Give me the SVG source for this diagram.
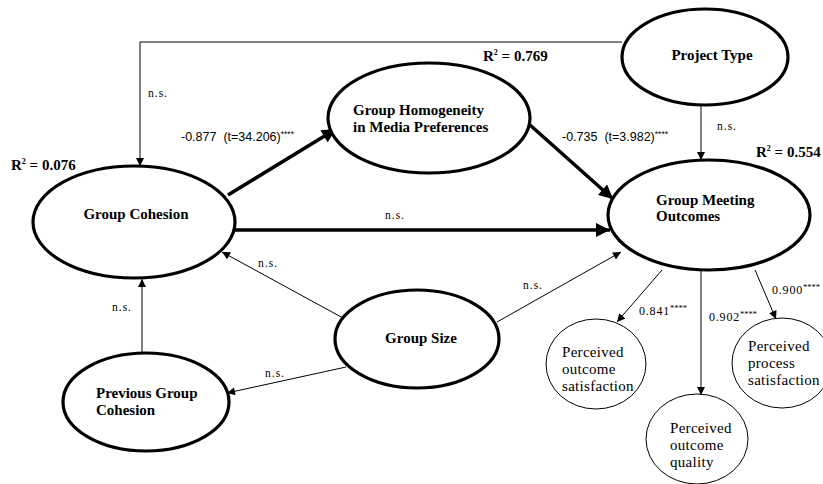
<svg xmlns="http://www.w3.org/2000/svg" width="823" height="484" viewBox="0 0 823 484">
<style>
.bg{fill:#fff}
.node{fill:#fff;stroke:#000;stroke-width:3.2}
.ind{fill:#fff;stroke:#000;stroke-width:1}
.lbl{font-family:"Liberation Serif",serif;font-weight:bold;font-size:15px;fill:#000}
.ilbl{font-family:"Liberation Serif",serif;font-size:15px;fill:#000;letter-spacing:0.3px}
.ns{font-family:"Liberation Serif",serif;font-size:11.5px;fill:#000;letter-spacing:1px}
.coef{font-family:"Liberation Sans",sans-serif;font-size:12.5px;fill:#000;white-space:pre}
.load{font-family:"Liberation Serif",serif;font-size:12px;fill:#000;letter-spacing:0.8px}
.star{font-size:8.5px;letter-spacing:0}
.r2{font-family:"Liberation Serif",serif;font-weight:bold;font-size:15px;fill:#000;white-space:pre}
.thick{fill:none;stroke:#000;stroke-width:3.5;marker-end:url(#big)}
.thin{fill:none;stroke:#000;stroke-width:1;marker-end:url(#small)}
</style>
<defs>
<marker id="big" viewBox="0 0 10 10" refX="10" refY="5" markerWidth="16" markerHeight="14" markerUnits="userSpaceOnUse" orient="auto"><path d="M0,0 L10,5 L0,10 z" fill="#000"/></marker>
<marker id="small" viewBox="0 0 10 10" refX="10" refY="5" markerWidth="9" markerHeight="8" markerUnits="userSpaceOnUse" orient="auto"><path d="M0,0 L10,5 L0,10 z" fill="#000"/></marker>
</defs>
<rect class="bg" x="0" y="0" width="823" height="484"/>

<g id="connectors">
<path class="thin" d="M622,42 H140 V166"/>
<path class="thin" d="M701,105 L701,160"/>
<path class="thick" d="M228,195 L336,129"/>
<path class="thick" d="M530,125 L613,199"/>
<path class="thick" d="M235,230 L610,230"/>
<path class="thin" d="M343,318 L222,252"/>
<path class="thin" d="M497,322 L621,252"/>
<path class="thin" d="M346,367 L227,393"/>
<path class="thin" d="M142,353 L142,279"/>
<path class="thin" d="M662,270 L617,322"/>
<path class="thin" d="M701,270 L701,395"/>
<path class="thin" d="M755,270 L776,319"/>
</g>

<g id="edge-labels">
<text class="ns" x="148" y="97">n.s.</text>
<text class="ns" x="717" y="130">n.s.</text>
<text class="coef" x="181" y="141">-0.877  (t=34.206)<tspan class="star" dy="-4">****</tspan></text>
<text class="coef" x="562" y="141">-0.735  (t=3.982)<tspan class="star" dy="-4">****</tspan></text>
<text class="ns" x="385" y="219">n.s.</text>
<text class="ns" x="258" y="267">n.s.</text>
<text class="ns" x="523" y="289">n.s.</text>
<text class="ns" x="265" y="377">n.s.</text>
<text class="ns" x="112" y="311">n.s.</text>
<text class="load" x="639" y="315">0.841<tspan class="star" dy="-4">****</tspan></text>
<text class="load" x="709" y="321">0.902<tspan class="star" dy="-4">****</tspan></text>
<text class="load" x="772" y="294">0.900<tspan class="star" dy="-4">****</tspan></text>
</g>

<g id="r2-labels">
<text class="r2" x="11" y="170">R<tspan font-size="8" dy="-6">2</tspan><tspan dy="6"> = 0.076</tspan></text>
<text class="r2" x="483" y="61">R<tspan font-size="8" dy="-6">2</tspan><tspan dy="6"> = 0.769</tspan></text>
<text class="r2" x="756" y="157">R<tspan font-size="8" dy="-6">2</tspan><tspan dy="6"> = 0.554</tspan></text>
</g>

<g id="group-cohesion">
<ellipse class="node" cx="134" cy="222" rx="101" ry="56"/>
<text class="lbl" x="136" y="219" text-anchor="middle">Group Cohesion</text>
</g>

<g id="group-homogeneity">
<ellipse class="node" cx="429" cy="118" rx="101" ry="55"/>
<text class="lbl" x="353" y="115">Group Homogeneity</text>
<text class="lbl" x="353" y="132">in Media Preferences</text>
</g>

<g id="project-type">
<ellipse class="node" cx="705" cy="57" rx="83" ry="48"/>
<text class="lbl" x="712" y="60" text-anchor="middle">Project Type</text>
</g>

<g id="group-meeting-outcomes">
<ellipse class="node" cx="709" cy="215" rx="101" ry="55"/>
<text class="lbl" x="656" y="205">Group Meeting</text>
<text class="lbl" x="656" y="221">Outcomes</text>
</g>

<g id="group-size">
<ellipse class="node" cx="417" cy="339" rx="82" ry="49"/>
<text class="lbl" x="421" y="343" text-anchor="middle">Group Size</text>
</g>

<g id="previous-group-cohesion">
<ellipse class="node" cx="146" cy="402" rx="83" ry="49"/>
<text class="lbl" x="96" y="398">Previous Group</text>
<text class="lbl" x="96" y="415">Cohesion</text>
</g>

<g id="perceived-outcome-satisfaction">
<ellipse class="ind" cx="596" cy="364" rx="50" ry="45"/>
<text class="ilbl" x="562" y="357">Perceived</text>
<text class="ilbl" x="562" y="374">outcome</text>
<text class="ilbl" x="562" y="391">satisfaction</text>
</g>

<g id="perceived-outcome-quality">
<ellipse class="ind" cx="697" cy="439" rx="51" ry="45"/>
<text class="ilbl" x="670" y="433">Perceived</text>
<text class="ilbl" x="670" y="450">outcome</text>
<text class="ilbl" x="670" y="467">quality</text>
</g>

<g id="perceived-process-satisfaction">
<ellipse class="ind" cx="782" cy="363" rx="50" ry="45"/>
<text class="ilbl" x="748" y="351">Perceived</text>
<text class="ilbl" x="748" y="368">process</text>
<text class="ilbl" x="748" y="385">satisfaction</text>
</g>
</svg>
